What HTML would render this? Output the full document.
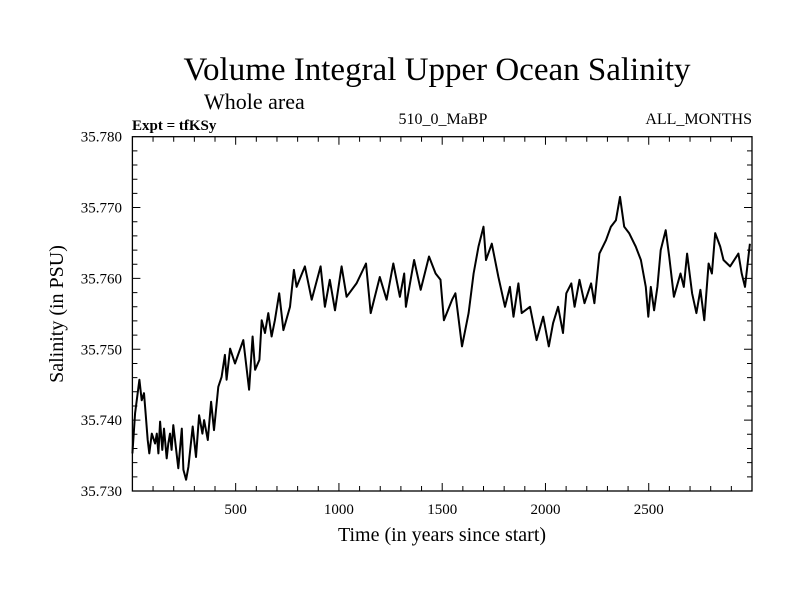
<!DOCTYPE html>
<html><head><meta charset="utf-8"><style>
body{margin:0;background:#fff}
svg{display:block}
text{font-family:"Liberation Serif",serif;fill:#000}
</style></head><body>
<svg id="chart" width="800" height="600">
<text x="437" y="80" font-size="33" text-anchor="middle">Volume Integral Upper Ocean Salinity</text>
<text x="204" y="109" font-size="22">Whole area</text>
<text x="132" y="130" font-size="15" font-weight="bold">Expt = tfKSy</text>
<text x="443" y="124" font-size="16" text-anchor="middle">510_0_MaBP</text>
<text x="752" y="124" font-size="16" text-anchor="end">ALL_MONTHS</text>
<text x="442" y="541" font-size="20" text-anchor="middle">Time (in years since start)</text>
<text transform="translate(63,314) rotate(-90)" font-size="20" text-anchor="middle">Salinity (in PSU)</text>
<g id="axes"></g>
</svg>
<script>
const years=[0,13,34,45,56,64,74,82,94,110,118,126,134,145,153,166,174,182,190,198,222,239,247,260,271,292,308,323,339,347,365,381,395,416,432,448,456,473,497,537,565,582,594,615,626,642,658,674,690,711,731,763,782,795,835,868,911,932,956,981,1013,1037,1085,1131,1154,1198,1231,1263,1295,1316,1324,1364,1396,1436,1468,1492,1508,1548,1564,1596,1628,1652,1676,1700,1712,1740,1772,1804,1828,1845,1869,1885,1925,1957,1989,2016,2037,2061,2085,2101,2125,2141,2165,2189,2221,2237,2261,2293,2317,2341,2361,2381,2405,2437,2462,2486,2498,2510,2526,2542,2558,2582,2599,2622,2654,2670,2686,2710,2731,2750,2769,2790,2806,2822,2846,2862,2894,2934,2950,2966,2990];
const salinity=[35.7353,35.7410,35.7457,35.7428,35.7438,35.7410,35.7372,35.7353,35.7381,35.7367,35.7381,35.7353,35.7398,35.7358,35.7388,35.7346,35.7367,35.7381,35.7358,35.7393,35.7332,35.7388,35.7330,35.7316,35.7334,35.7391,35.7348,35.7407,35.7381,35.7400,35.7372,35.7426,35.7386,35.7447,35.7461,35.7492,35.7457,35.7501,35.7480,35.7513,35.7443,35.7518,35.7471,35.7485,35.7541,35.7523,35.7551,35.7518,35.7541,35.7579,35.7527,35.7560,35.7612,35.7588,35.7617,35.7570,35.7617,35.7560,35.7598,35.7555,35.7617,35.7574,35.7593,35.7621,35.7551,35.7602,35.7570,35.7621,35.7574,35.7607,35.7560,35.7626,35.7584,35.7631,35.7607,35.7598,35.7541,35.7570,35.7579,35.7504,35.7551,35.7607,35.7645,35.7673,35.7626,35.7649,35.7602,35.7560,35.7588,35.7546,35.7593,35.7551,35.7560,35.7513,35.7546,35.7504,35.7537,35.7560,35.7523,35.7579,35.7593,35.7560,35.7598,35.7565,35.7593,35.7565,35.7635,35.7654,35.7673,35.7682,35.7715,35.7673,35.7664,35.7645,35.7626,35.7588,35.7546,35.7588,35.7555,35.7588,35.7640,35.7668,35.7631,35.7574,35.7607,35.7588,35.7635,35.7579,35.7551,35.7584,35.7541,35.7621,35.7607,35.7664,35.7645,35.7626,35.7617,35.7635,35.7607,35.7588,35.7649];
const xTickLabels=["500","1000","1500","2000","2500"];
const yTickLabels=["35.730","35.740","35.750","35.760","35.770","35.780"];
const X0=132.4,X1=752,Y0=491,Y1=136.7;
const xMin=0,xMax=3000,yMin=35.73,yMax=35.78;
function sx(v){return X0+(v-xMin)/(xMax-xMin)*(X1-X0);}
function sy(v){return Y0-(v-yMin)/(yMax-yMin)*(Y0-Y1);}
const NS="http://www.w3.org/2000/svg";
const g=document.getElementById('axes');
function mk(t,a){const e=document.createElementNS(NS,t);for(const k in a)e.setAttribute(k,a[k]);g.appendChild(e);return e;}
const frame=mk('rect',{x:X0,y:Y1,width:X1-X0,height:Y0-Y1,fill:'none',stroke:'#000','stroke-width':1.3});


let d='';
for(let v=100;v<3000;v+=100){const x=sx(v);const L=(v%500===0)?8:5;d+=`M${x},${Y0}v${-L}M${x},${Y1}v${L}`;}
for(let i=1;i<25;i++){const v=yMin+i*0.002;const y=sy(v);const L=(i%5===0)?8:5;d+=`M${X0},${y}h${L}M${X1},${y}h${-L}`;}
const ticks=mk('path',{d:d,stroke:'#000','stroke-width':1,fill:'none'});


xTickLabels.forEach(s=>{const t=mk('text',{x:sx(+s),y:514,'font-size':15,'text-anchor':'middle'});t.textContent=s;

});
yTickLabels.forEach(s=>{const t=mk('text',{x:122,y:sy(+s)+5,'font-size':15,'text-anchor':'end'});t.textContent=s;

});
const pts=years.map((y,i)=>sx(y).toFixed(1)+','+sy(salinity[i]).toFixed(1)).join(' ');
const line=mk('polyline',{points:pts,fill:'none',stroke:'#000','stroke-width':2,'stroke-linejoin':'round'});


</script>
</body></html>
